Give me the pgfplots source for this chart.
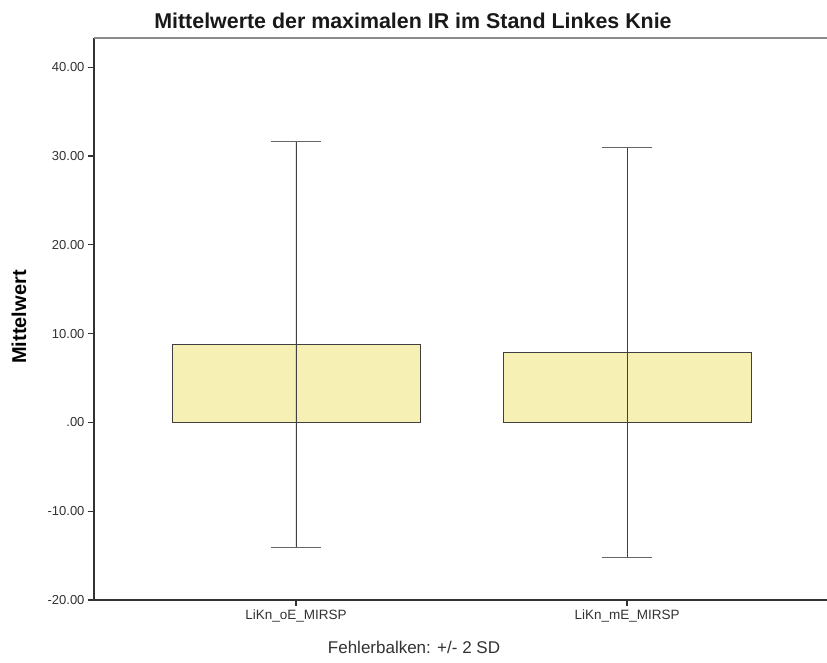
\documentclass[border=0pt]{standalone}
\usepackage{pgfplots}
\pgfplotsset{compat=1.18}
\usepackage{fontspec}
\setmainfont{Liberation Sans}
\definecolor{barfill}{RGB}{247,240,180}
\definecolor{axgray}{RGB}{50,50,50}
\begin{document}
\begin{tikzpicture}[x=1pt,y=1pt]
\path[use as bounding box] (0,0) rectangle (827,663);
\begin{axis}[
  at={(94pt,63pt)}, anchor=south west,
  scale only axis, width=735pt, height=562pt,
  xmin=-0.61, xmax=1.61, ymin=-20, ymax=43.3,
  axis x line*=bottom, axis y line*=left,
  axis line style={-, draw=axgray, line width=1.2pt},
  ytick={-20,-10,...,40},
  yticklabels={-20.00,-10.00,.00,10.00,20.00,30.00,40.00},
  xtick={0,1},
  xticklabels={LiKn\_oE\_MIRSP, LiKn\_mE\_MIRSP},
  tick align=outside, major tick length=6pt,
  tick style={draw=axgray, line width=1.2pt},
  yticklabel style={font=\fontsize{13}{15}\selectfont, text=axgray},
  xticklabel style={font=\fontsize{13.5}{15}\selectfont, text=axgray},
  clip=false,
]
\addplot[ybar, bar width=248pt, fill=barfill, draw=black!75, line width=0.9pt,
  error bars/.cd, y dir=both, y explicit,
  error bar style={black!75, line width=0.9pt},
  error mark options={rotate=90, mark size=25pt, line width=1.2pt, black!60}]
  coordinates {(0,8.78) +- (0,22.86) (1,7.88) +- (0,23.10)};
\draw[black!45, line width=2pt] (rel axis cs:0,1) -- (rel axis cs:1,1);
\end{axis}
\node[anchor=base, font=\bfseries\fontsize{21.4}{24}\selectfont, text=black!90] at (413,634.5) {Mittelwerte der maximalen IR im Stand Linkes Knie};
\node[anchor=base, font=\fontsize{17}{19}\selectfont, text=axgray] at (414,9) {Fehlerbalken: +/- 2 SD};
\node[font=\bfseries\fontsize{20}{22}\selectfont, rotate=90] at (19,346) {Mittelwert};
\end{tikzpicture}
\end{document}
